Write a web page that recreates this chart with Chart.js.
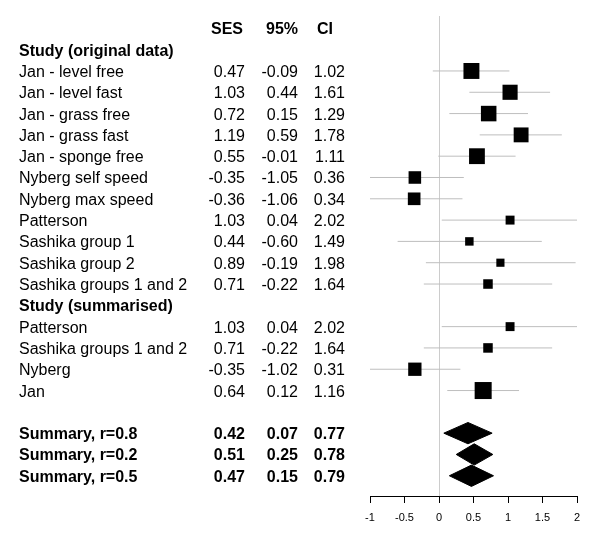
<!DOCTYPE html>
<html>
<head>
<meta charset="utf-8">
<script src="https://cdn.jsdelivr.net/npm/chart.js@4"></script>
<style>
  html, body { margin: 0; padding: 0; background: #fff; }
  #wrap { width: 600px; height: 537px; }
</style>
</head>
<body>
<div id="wrap"><canvas id="forest" width="600" height="537"></canvas></div>
<script>
// Study (original data)
const studies = ["Jan - level free", "Jan - level fast", "Jan - grass free", "Jan - grass fast", "Jan - sponge free",
  "Nyberg self speed", "Nyberg max speed", "Patterson", "Sashika group 1", "Sashika group 2", "Sashika groups 1 and 2"];
const studySES = [0.47, 1.03, 0.72, 1.19, 0.55, -0.35, -0.36, 1.03, 0.44, 0.89, 0.71];
const studyLower = [-0.09, 0.44, 0.15, 0.59, -0.01, -1.05, -1.06, 0.04, -0.60, -0.19, -0.22];
const studyUpper = [1.02, 1.61, 1.29, 1.78, 1.11, 0.36, 0.34, 2.02, 1.49, 1.98, 1.64];

// Study (summarised)
const summStudies = ["Patterson", "Sashika groups 1 and 2", "Nyberg", "Jan"];
const summSES = [1.03, 0.71, -0.35, 0.64];
const summLower = [0.04, -0.22, -1.02, 0.12];
const summUpper = [2.02, 1.64, 0.31, 1.16];

// pooled estimates
const pooled = ["Summary, r=0.8", "Summary, r=0.2", "Summary, r=0.5"];
const pooledSES = [0.42, 0.51, 0.47];
const pooledLower = [0.07, 0.25, 0.15];
const pooledUpper = [0.77, 0.78, 0.79];

const xTicks = [-1, -0.5, 0, 0.5, 1, 1.5, 2];

// build the table rows (row number = position in the list)
const rows = [];
rows.push({ kind: "colhead" });
rows.push({ kind: "head", label: "Study (original data)" });
studies.forEach((s, i) => rows.push({ kind: "study", label: s, ses: studySES[i], lo: studyLower[i], hi: studyUpper[i] }));
rows.push({ kind: "head", label: "Study (summarised)" });
summStudies.forEach((s, i) => rows.push({ kind: "study", label: s, ses: summSES[i], lo: summLower[i], hi: summUpper[i] }));
rows.push({ kind: "blank" });
pooled.forEach((s, i) => rows.push({ kind: "pooled", label: s, ses: pooledSES[i], lo: pooledLower[i], hi: pooledUpper[i] }));

const FONT = "'Liberation Sans', Arial, Helvetica, sans-serif";
const fmt = v => v.toFixed(2);

// CI whiskers: one line with gaps between rows
const ciPoints = [];
const boxPoints = [];
rows.forEach((r, i) => {
  if (r.kind !== "study") return;
  ciPoints.push({ x: r.lo, y: i }, { x: r.hi, y: i }, { x: NaN, y: NaN });
  boxPoints.push({ x: r.ses, y: i, lo: r.lo, hi: r.hi });
});

// diamonds for the summary rows
const diamondSets = [];
rows.forEach((r, i) => {
  if (r.kind !== "pooled") return;
  diamondSets.push({
    type: "scatter",
    showLine: true,
    data: [
      { x: r.lo, y: i }, { x: r.ses, y: i - 0.5 }, { x: r.hi, y: i },
      { x: r.ses, y: i + 0.5 }, { x: r.lo, y: i }
    ],
    borderColor: "#000",
    backgroundColor: "#000",
    borderWidth: 1,
    fill: "shape",
    pointRadius: 0,
    tension: 0,
    order: 1
  });
});

// zero line and the text table
const forestPlugin = {
  id: "forestText",
  beforeDatasetsDraw(chart) {
    const { ctx, chartArea, scales } = chart;
    const x0 = Math.round(scales.x.getPixelForValue(0)) + 0.5;
    ctx.save();
    ctx.strokeStyle = "#cccccc";
    ctx.lineWidth = 1;
    ctx.beginPath();
    ctx.moveTo(x0, chartArea.top);
    ctx.lineTo(x0, chartArea.bottom);
    ctx.stroke();
    ctx.restore();
  },
  afterDraw(chart) {
    const { ctx, scales } = chart;
    ctx.save();
    ctx.fillStyle = "#000";
    ctx.textBaseline = "alphabetic";
    rows.forEach((r, i) => {
      const y = scales.y.getPixelForValue(i) + 6;
      if (r.kind === "colhead") {
        ctx.font = "bold 16px " + FONT;
        ctx.textAlign = "right";
        ctx.fillText("SES", 243, y);
        ctx.fillText("95%", 298, y);
        ctx.fillText("CI", 333, y);
        return;
      }
      if (r.kind === "blank") return;
      ctx.font = (r.kind === "study" ? "" : "bold ") + "16px " + FONT;
      ctx.textAlign = "left";
      ctx.fillText(r.label, 19, y);
      if (r.kind === "head") return;
      ctx.textAlign = "right";
      ctx.fillText(fmt(r.ses), 245, y);
      ctx.fillText(fmt(r.lo), 298, y);
      ctx.fillText(fmt(r.hi), 345, y);
    });
    ctx.restore();
  }
};

new Chart(document.getElementById("forest").getContext("2d"), {
  type: "scatter",
  data: {
    datasets: [
      {
        data: boxPoints,
        pointStyle: "rect",
        // box side shrinks with the width of the interval
        pointRadius: c => (17.7 / (c.raw.hi - c.raw.lo)) / Math.SQRT2,
        backgroundColor: "#000",
        borderWidth: 0,
        order: 1
      },
      ...diamondSets,
      {
        data: ciPoints,
        showLine: true,
        spanGaps: false,
        borderColor: "#bebebe",
        borderWidth: 1,
        pointRadius: 0,
        order: 3
      }
    ]
  },
  options: {
    responsive: false,
    animation: false,
    layout: { padding: { left: 370, right: 23, top: 16, bottom: 0 } },
    plugins: { legend: { display: false }, tooltip: { enabled: false } },
    scales: {
      x: {
        type: "linear",
        min: -1,
        max: 2,
        afterBuildTicks: s => { s.ticks = xTicks.map(v => ({ value: v })); },
        afterFit: s => { s.height = 41; },
        grid: { drawOnChartArea: false, drawTicks: true, tickLength: 7, color: "#000" },
        border: { display: true, color: "#000" },
        ticks: {
          color: "#000",
          font: { family: FONT, size: 11 },
          padding: 8,
          maxRotation: 0,
          callback: v => String(v)
        }
      },
      y: {
        type: "linear",
        reverse: true,
        min: -0.58,
        max: 21.95,
        display: false
      }
    }
  },
  plugins: [forestPlugin]
});
</script>
</body>
</html>
